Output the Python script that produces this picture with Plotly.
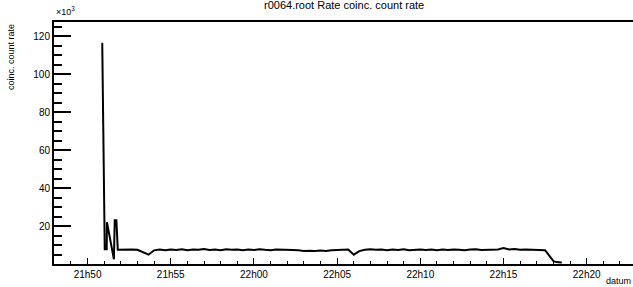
import plotly.graph_objects as go
import pandas as pd

DAY = "2024-01-01 "

# Start-up transient (time, counts)
spike_times = ["21:50:50", "21:50:53", "21:51:02", "21:51:09", "21:51:10",
               "21:51:35", "21:51:38", "21:51:44", "21:51:49"]
spike_vals = [116000, 116000, 7800, 7800, 22000, 2500, 23000, 23000, 7500]

# Steady run, sampled every 20 s from 21:52:00
flat_start = "21:52:00"
flat_step_s = 20
flat_vals = [
    7600, 7400, 7700,  7500, 6000, 4900,  7200, 7600, 7300,
    7700, 7400, 7800,  7300, 7700, 7500,  7900, 7400, 7600,
    7300, 7800, 7500,  7700, 7200, 7600,  7400, 7800, 7500,
    7300, 7700, 7600,  7800, 7400, 7200,  6900, 7000, 6800,
    7100, 6900, 7200,  7400, 7300, 7600,  4900, 6800, 7500,
    7800, 7500, 7700,  7300, 7600, 7400,  7800, 7300, 7500,
    7700, 7400, 7600,  7200, 7600, 7400,  7700, 7500, 7300,
    7600, 7800, 7400,  7500, 7300, 7700,  8400, 7600, 7900,
    7500, 7700, 7600,  7500, 7400,
]

# Ramp-down at end of run
end_times = ["22:17:30", "22:18:00", "22:18:10", "22:18:30"]
end_vals = [7300, 1500, 1000, 800]

flat_times = pd.date_range(DAY + flat_start, periods=len(flat_vals),
                           freq=f"{flat_step_s}s")

x = ([pd.Timestamp(DAY + t) for t in spike_times] + list(flat_times)
     + [pd.Timestamp(DAY + t) for t in end_times])
y = spike_vals + flat_vals + end_vals
y_k = [v / 1000 for v in y]

y_ticks = [20, 40, 60, 80, 100, 120]

fig = go.Figure()
fig.add_trace(go.Scatter(x=x, y=y_k, mode="lines",
                         line=dict(color="black", width=2), hoverinfo="skip"))

font = "Liberation Sans, Arial, Helvetica, sans-serif"
fig.update_layout(
    width=633, height=287,
    margin=dict(l=54, r=0, t=22, b=23, autoexpand=False),
    paper_bgcolor="white", plot_bgcolor="white",
    showlegend=False,
    font=dict(family=font, size=10, color="black"),
    xaxis=dict(
        type="date", automargin=False,
        range=[DAY + "21:47:59", DAY + "22:22:47"],
        tickformat="%Hh%M",
        dtick=300000, tick0=DAY + "21:50:00",
        ticks="inside", ticklen=6, tickwidth=1, tickcolor="black",
        minor=dict(dtick=60000, ticks="inside", ticklen=3, tickwidth=1,
                   tickcolor="black"),
        showline=True, linewidth=2, linecolor="black", mirror=True,
        showgrid=False, zeroline=False,
        tickfont=dict(size=10),
    ),
    yaxis=dict(
        automargin=False,
        range=[0, 127.5],
        tickmode="array", tickvals=y_ticks,
        ticktext=[str(v) for v in y_ticks],
        ticks="inside", ticklen=17, tickwidth=2, tickcolor="black",
        minor=dict(tickmode="linear", tick0=0, dtick=5, ticks="inside",
                   ticklen=8, tickwidth=2, tickcolor="black"),
        showline=True, linewidth=2, linecolor="black",
        showgrid=False, zeroline=False,
        tickfont=dict(size=10),
    ),
    annotations=[
        dict(text="r0064.root Rate coinc. count rate", xref="paper", yref="paper",
             x=(344 - 54) / 579, y=1 + 17 / 242, xanchor="center", yanchor="middle",
             showarrow=False, font=dict(size=11)),
        dict(text="×10<sup>3</sup>", xref="paper", yref="paper",
             x=0, y=1 + 3 / 242, xanchor="left", yanchor="bottom",
             showarrow=False, font=dict(size=9)),
        dict(text="coinc. count rate", xref="paper", yref="paper",
             x=-(54 - 11) / 579, y=1, xanchor="center", yanchor="top",
             textangle=-90, showarrow=False, font=dict(size=9)),
        dict(text="datum", xref="paper", yref="paper",
             x=1, y=-(281 - 264) / 242, xanchor="right", yanchor="middle",
             showarrow=False, font=dict(size=9)),
    ],
)

fig.write_html("out.html",
               config={"displayModeBar": False},
               post_script="document.body.style.margin='0';"
                           "document.body.style.overflow='hidden';")
